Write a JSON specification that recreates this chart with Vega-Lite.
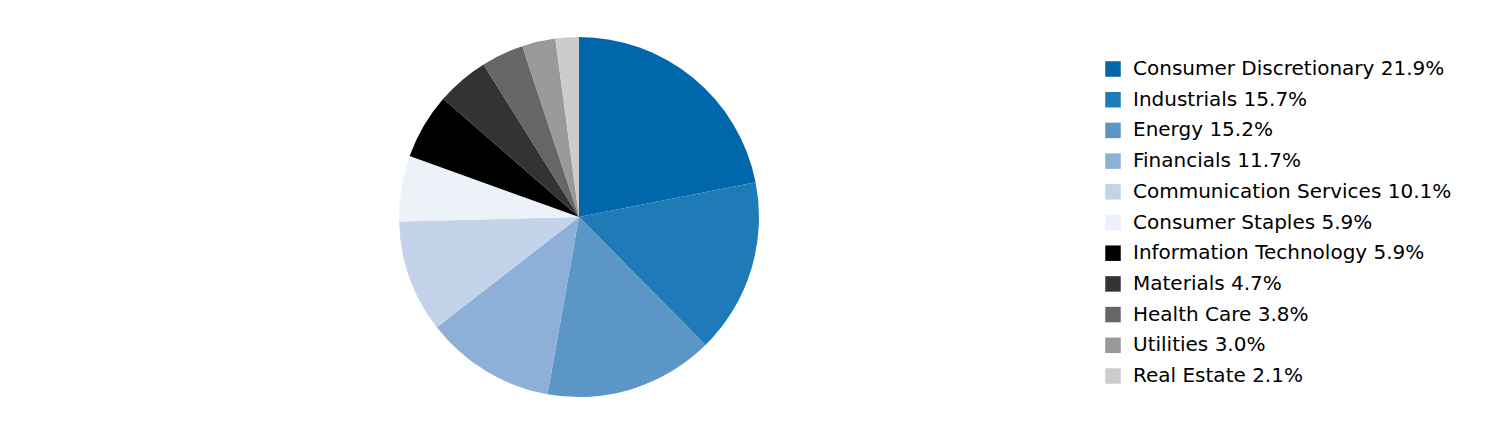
{
  "$schema": "https://vega.github.io/schema/vega-lite/v6.json",
  "width": 1158,
  "height": 434,
  "autosize": {"type": "none"},
  "padding": {"left": 0, "top": 0, "right": 354, "bottom": 10},
  "background": "white",
  "view": {"stroke": null},
  "data": {
    "values": [
      {"rank": 1, "sector": "Consumer Discretionary", "label": "Consumer Discretionary 21.9%", "value": 21.9},
      {"rank": 2, "sector": "Industrials", "label": "Industrials 15.7%", "value": 15.7},
      {"rank": 3, "sector": "Energy", "label": "Energy 15.2%", "value": 15.2},
      {"rank": 4, "sector": "Financials", "label": "Financials 11.7%", "value": 11.7},
      {"rank": 5, "sector": "Communication Services", "label": "Communication Services 10.1%", "value": 10.1},
      {"rank": 6, "sector": "Consumer Staples", "label": "Consumer Staples 5.9%", "value": 5.9},
      {"rank": 7, "sector": "Information Technology", "label": "Information Technology 5.9%", "value": 5.9},
      {"rank": 8, "sector": "Materials", "label": "Materials 4.7%", "value": 4.7},
      {"rank": 9, "sector": "Health Care", "label": "Health Care 3.8%", "value": 3.8},
      {"rank": 10, "sector": "Utilities", "label": "Utilities 3.0%", "value": 3.0},
      {"rank": 11, "sector": "Real Estate", "label": "Real Estate 2.1%", "value": 2.1}
    ]
  },
  "mark": {"type": "arc", "outerRadius": 180, "stroke": null},
  "encoding": {
    "theta": {"field": "value", "type": "quantitative", "stack": true},
    "order": {"field": "rank", "type": "quantitative", "sort": "ascending"},
    "color": {
      "field": "label",
      "type": "nominal",
      "sort": null,
      "scale": {
        "domain": [
          "Consumer Discretionary 21.9%",
          "Industrials 15.7%",
          "Energy 15.2%",
          "Financials 11.7%",
          "Communication Services 10.1%",
          "Consumer Staples 5.9%",
          "Information Technology 5.9%",
          "Materials 4.7%",
          "Health Care 3.8%",
          "Utilities 3.0%",
          "Real Estate 2.1%"
        ],
        "range": ["#0067AA", "#1F7BB8", "#5B96C7", "#8EAFD7", "#C3D4EA", "#EDF2F9", "#000000", "#333333", "#666666", "#999999", "#CCCCCC"]
      },
      "legend": {
        "title": null,
        "orient": "none",
        "legendX": 1103,
        "legendY": 59,
        "padding": 0,
        "symbolType": "square",
        "symbolSize": 240,
        "symbolStrokeWidth": 0,
        "labelFont": "DejaVu Sans",
        "labelFontSize": 20,
        "labelColor": "#000000",
        "labelOffset": 10,
        "rowPadding": 10.7,
        "labelLimit": 500
      }
    }
  }
}
